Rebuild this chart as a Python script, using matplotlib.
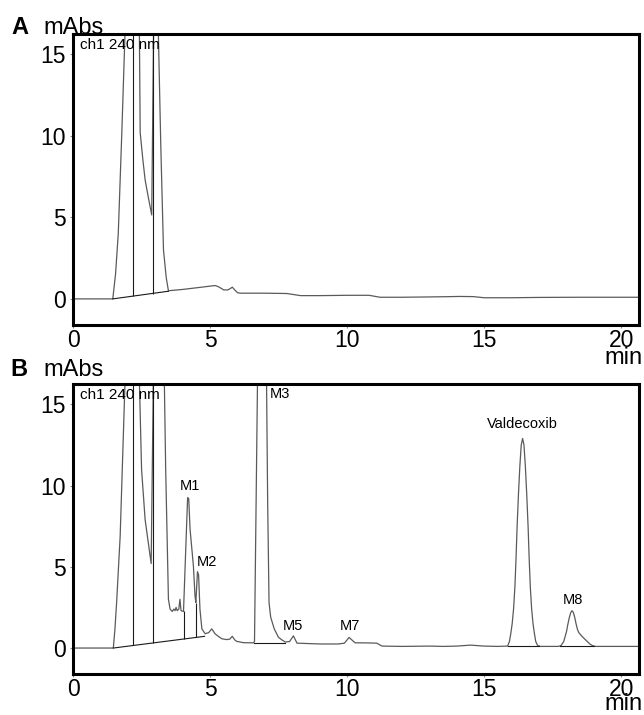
import matplotlib
matplotlib.use("Agg")
import matplotlib.pyplot as plt

plt.rcParams["font.family"] = ["Liberation Sans", "DejaVu Sans"]

# ---- panel A: chromatogram (time in min, absorbance in mAbs) ----
time_a = [0.0, 1.45, 1.55, 1.65, 1.78, 1.9, 2.15, 2.42, 2.45, 2.55, 2.63, 2.75, 2.87,
          2.94, 3.02, 3.11, 3.2, 3.3, 3.4, 3.48, 4.0, 4.6, 5.18, 5.3, 5.5, 5.65, 5.75,
          5.81, 5.9, 6.0, 6.1, 7.0, 7.8, 8.3, 9.0, 10.0, 10.8, 11.2, 12.0, 13.0, 13.8,
          14.1, 14.6, 15.0, 16.0, 17.0, 18.4, 19.5, 20.6]
abs_a = [0.0, 0.0, 1.5, 4.0, 10.2, 16.5, 30.0, 16.5, 10.2, 8.5, 7.3, 6.2, 5.15,
         16.5, 30.0, 16.5, 9.5, 3.0, 1.3, 0.5, 0.58, 0.7, 0.82, 0.75, 0.55, 0.55, 0.65,
         0.72, 0.55, 0.38, 0.35, 0.35, 0.33, 0.2, 0.2, 0.22, 0.22, 0.1, 0.1, 0.12, 0.14,
         0.15, 0.14, 0.07, 0.07, 0.09, 0.1, 0.1, 0.1]
base_a_t = [1.45, 3.48]
base_a_y = [0.0, 0.47]
drop_a_t = [2.17, 2.91]
drop_a_lo = [0.16, 0.32]
drop_a_hi = [30.0, 30.0]

# ---- panel B ----
time_b = [0.0, 1.47, 1.53, 1.59, 1.72, 1.9, 2.15, 2.42, 2.5, 2.63, 2.75, 2.85, 2.93,
          3.1, 3.33, 3.38, 3.48, 3.54, 3.62, 3.68, 3.72, 3.76, 3.8, 3.86, 3.9, 3.94,
          4.03, 4.1, 4.18, 4.22, 4.27, 4.33, 4.39, 4.45, 4.48, 4.51, 4.54, 4.58, 4.63,
          4.7, 4.82, 4.95, 5.06, 5.18, 5.3, 5.43, 5.6, 5.72, 5.81, 5.9, 5.97, 6.22,
          6.58, 6.62, 6.73, 6.9, 7.06, 7.1, 7.15, 7.21, 7.34, 7.49, 7.62, 7.74, 7.9,
          8.04, 8.17, 8.53, 9.01, 9.68, 9.9, 10.07, 10.29, 10.6, 11.08, 11.27, 12.0,
          13.0, 13.5, 14.0, 14.5, 15.0, 15.5, 15.85, 15.92, 15.97, 16.02, 16.07, 16.12,
          16.16, 16.2, 16.25, 16.3, 16.35, 16.4, 16.45, 16.5, 16.55, 16.6, 16.64, 16.68,
          16.73, 16.78, 16.83, 16.88, 16.95, 17.05, 17.7, 17.8, 17.9, 18.0, 18.05, 18.1,
          18.15, 18.2, 18.25, 18.3, 18.35, 18.4, 18.45, 18.55, 18.65, 18.75, 18.85,
          18.95, 19.05, 19.5, 20.6]
abs_b = [0.0, 0.0, 1.2, 2.8, 6.9, 16.5, 30.0, 16.5, 11.0, 7.9, 6.4, 5.2, 16.5,
         30.0, 16.5, 11.0, 3.0, 2.4, 2.25, 2.4, 2.3, 2.5, 2.3, 2.4, 3.0, 2.3,
         2.25, 5.5, 9.26, 9.2, 7.3, 6.2, 5.07, 3.2, 2.8, 3.8, 4.7, 4.5, 2.4,
         1.18, 0.88, 0.95, 1.18, 0.88, 0.72, 0.57, 0.52, 0.55, 0.72, 0.5, 0.41, 0.33,
         0.32, 0.4, 16.5, 45.0, 16.5, 9.0, 2.8, 1.9, 1.18, 0.67, 0.5, 0.37, 0.4,
         0.75, 0.3, 0.28, 0.25, 0.25, 0.3, 0.65, 0.32, 0.32, 0.3, 0.12, 0.1,
         0.12, 0.1, 0.12, 0.18, 0.12, 0.1, 0.12, 0.4, 0.9, 1.5, 2.4, 3.8,
         5.5, 7.5, 9.5, 11.2, 12.5, 12.9, 12.5, 11.2, 9.5, 7.5, 5.5, 3.8,
         2.4, 1.5, 0.9, 0.4, 0.15, 0.1, 0.1, 0.15, 0.4, 1.0, 1.45, 1.85,
         2.15, 2.3, 2.2, 1.9, 1.5, 1.15, 0.95, 0.75, 0.58, 0.42, 0.25,
         0.15, 0.1, 0.1, 0.1]
base_b_t = [[1.47, 4.8], [6.6, 7.75], [15.85, 17.0], [17.75, 19.0]]
base_b_y = [[0.0, 0.72], [0.33, 0.33], [0.1, 0.1], [0.1, 0.1]]
drop_b_t = [2.17, 2.9, 4.03, 4.48]
drop_b_lo = [0.16, 0.31, 0.55, 0.65]
drop_b_hi = [30.0, 30.0, 2.25, 2.8]

peak_names = ["M1", "M2", "M3", "M5", "M7", "Valdecoxib", "M8"]
peak_label_t = [4.27, 4.88, 7.55, 8.04, 10.1, 16.4, 18.22]
peak_label_y = [9.55, 4.85, 15.2, 0.95, 0.95, 13.35, 2.5]

fig = plt.figure(figsize=(6.44, 7.15), dpi=100)
ax_a = fig.add_axes([0.1134, 0.5455, 0.8790, 0.4069])
ax_b = fig.add_axes([0.1134, 0.0573, 0.8790, 0.4056])

trace_col = "#5a5a5a"
line_col = "#1a1a1a"


def style(ax):
    ax.set_xlim(0, 20.65)
    ax.set_ylim(-1.6, 16.25)
    ax.set_xticks([0, 5, 10, 15, 20])
    ax.set_yticks([0, 5, 10, 15])
    ax.tick_params(labelsize=16.5, length=2.5, width=0.8, color="#888888")
    ax.tick_params(axis="x", pad=0.5)
    ax.tick_params(axis="y", pad=2.5)
    for s in ax.spines.values():
        s.set_linewidth(2.2)
        s.set_color("black")
    ax.text(0.012, 0.985, "ch1 240 nm", transform=ax.transAxes, fontsize=11,
            ha="left", va="top")


# panel A
ax_a.plot(time_a, abs_a, color=trace_col, lw=0.9)
ax_a.plot(base_a_t, base_a_y, color=line_col, lw=0.8)
ax_a.vlines(drop_a_t, drop_a_lo, drop_a_hi, color=line_col, lw=0.8)
style(ax_a)

# panel B
ax_b.plot(time_b, abs_b, color=trace_col, lw=0.9)
for bt, by in zip(base_b_t, base_b_y):
    ax_b.plot(bt, by, color=line_col, lw=0.8)
ax_b.vlines(drop_b_t, drop_b_lo, drop_b_hi, color=line_col, lw=0.8)
for name, t, y in zip(peak_names, peak_label_t, peak_label_y):
    ax_b.text(t, y, name, fontsize=10.5, ha="center", va="bottom")
style(ax_b)

# panel letters and axis titles
fig.text(0.018, 0.953, "A", fontsize=17, fontweight="bold", va="baseline")
fig.text(0.067, 0.953, "mAbs", fontsize=17, va="baseline")
fig.text(0.998, 0.491, "min", fontsize=17, ha="right", va="baseline")
fig.text(0.016, 0.474, "B", fontsize=17, fontweight="bold", va="baseline")
fig.text(0.067, 0.474, "mAbs", fontsize=17, va="baseline")
fig.text(0.998, 0.007, "min", fontsize=17, ha="right", va="baseline")

fig.savefig("out.png", dpi=100)
